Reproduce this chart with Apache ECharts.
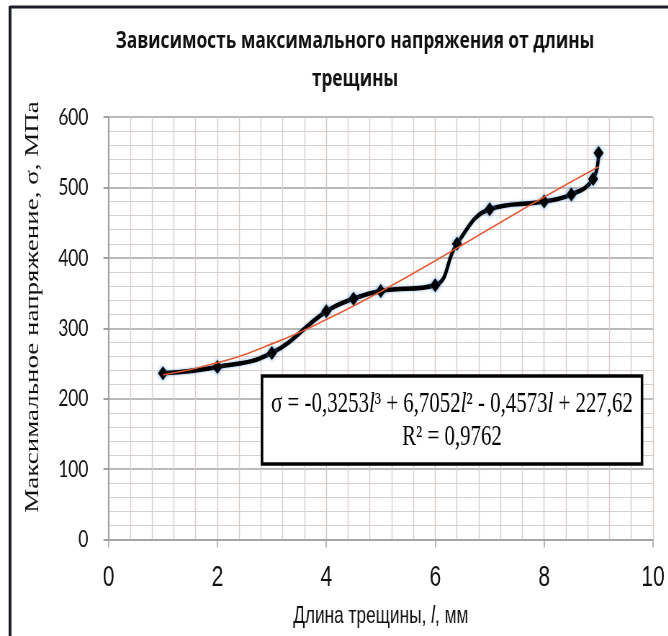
<!DOCTYPE html>
<html><head><meta charset="utf-8">
<script src="https://cdn.jsdelivr.net/npm/echarts@6/dist/echarts.min.js"></script>
<style>
html,body{margin:0;padding:0;background:#fff;overflow:hidden;}
#wrap{width:668px;height:636px;overflow:hidden;position:relative;background:#fff;}
#chart{width:928px;height:636px;transform:scaleX(0.72);transform-origin:0 0;}
</style></head><body>
<div id="wrap"><div id="chart"></div></div>
<script>
// ---- data ----
const titleText = 'Зависимость максимального напряжения от длины\nтрещины';
const xAxisName = 'Длина трещины, {i|l}, мм';
const yAxisName = 'Максимальное напряжение, σ, МПа';
const xMin = 0, xMax = 10, xStep = 2;
const yMin = 0, yMax = 600, yStep = 100;
const crackLength = [1, 2, 3, 4, 4.5, 5, 6, 6.4, 7, 8, 8.5, 8.9, 9];
const maxStress   = [236, 245, 265, 324, 342, 353, 361, 420, 469, 480, 490, 512, 549];
const trendLength = [1, 2, 3, 4, 5, 6, 7, 8, 9];
const trendStress = [233.5, 250.9, 277.8, 312.3, 352.3, 396.0, 441.4, 486.5, 529.5];
const equationLine1 = 'σ = -0,3253{i|l}³ + 6,7052{i|l}² - 0,4573{i|l} + 227,62';
const equationLine2 = 'R² = 0,9762';

const S = 0.72; // horizontal compression of the picture
const px = v => v / S;

const chart = echarts.init(document.getElementById('chart'), null, {renderer: 'canvas'});
const mainData = crackLength.map((x, i) => [x, maxStress[i]]);
const trendData = trendLength.map((x, i) => [x, trendStress[i]]);

const boxX = px(262), boxY = 376, boxW = px(642) - px(262), boxH = 88;

chart.setOption({
  animation: false,
  backgroundColor: '#fff',
  title: {
    text: titleText,
    left: px(355),
    top: 22,
    textAlign: 'center',
    padding: 0,
    textStyle: {fontFamily: 'Open Sans', fontWeight: 'bold', fontSize: 24, lineHeight: 38, color: '#111'}
  },
  grid: {left: px(108.5), right: 928 - px(653), top: 117, bottom: 636 - 539.5},
  xAxis: {
    type: 'value', min: xMin, max: xMax, interval: xStep,
    name: xAxisName, nameLocation: 'middle', nameGap: 65,
    nameTextStyle: {fontFamily: 'Liberation Sans', fontSize: 24, color: '#111',
      rich: {i: {fontFamily: 'Liberation Sans', fontSize: 24, fontStyle: 'italic', color: '#111'}}},
    axisLine: {show: true, lineStyle: {color: '#a0a0a0', width: 1.5}},
    axisTick: {show: true, length: 8, lineStyle: {color: '#a0a0a0', width: 1.5}},
    axisLabel: {fontFamily: 'Liberation Sans', fontSize: 29, color: '#111', margin: 24},
    splitLine: {show: true, lineStyle: {color: '#d3c9c5', width: 1.4}},
    minorTick: {show: false, splitNumber: 5},
    minorSplitLine: {show: true, lineStyle: {color: '#d6cdca', width: 1.4}}
  },
  yAxis: {
    type: 'value', min: yMin, max: yMax, interval: yStep,
    axisLine: {show: true, lineStyle: {color: '#a0a0a0', width: 2}},
    axisTick: {show: true, length: 7, lineStyle: {color: '#a0a0a0', width: 2}},
    axisLabel: {fontFamily: 'Lato', fontSize: 24, color: '#111', margin: 28},
    splitLine: {show: true, lineStyle: {color: '#a3a3a3', width: 1.6}},
    minorTick: {show: false, splitNumber: 5},
    minorSplitLine: {show: true, lineStyle: {color: '#d8d0cd', width: 1}}
  },
  series: [
    {
      type: 'line', data: mainData, smooth: 0.45, z: 3,
      lineStyle: {color: '#000', width: 4.5, shadowColor: 'rgba(60,130,220,0.6)', shadowBlur: 3},
      symbol: 'diamond', symbolSize: [14, 14],
      itemStyle: {color: '#000', shadowColor: 'rgba(60,140,230,0.9)', shadowBlur: 4}
    },
    {
      type: 'line', data: trendData, smooth: true, z: 4, symbol: 'none',
      lineStyle: {color: '#e4572e', width: 1.6}
    }
  ],
  graphic: [
    {type: 'line', z: 100, shape: {x1: px(10), y1: 7, x2: 928, y2: 7}, style: {stroke: '#1c1f2a', lineWidth: 3}},
    {type: 'line', z: 100, shape: {x1: px(10), y1: 6, x2: px(10), y2: 636}, style: {stroke: '#1c1f2a', lineWidth: 4}},
    {type: 'text', z: 100, x: px(33), y: 307, rotation: Math.PI / 2,
      style: {text: yAxisName, fontFamily: 'Liberation Serif', fontSize: 27, fill: '#111', align: 'center', verticalAlign: 'middle'}},
    {type: 'rect', z: 100, shape: {x: boxX, y: boxY, width: boxW, height: boxH},
      style: {fill: '#fff', stroke: '#000', lineWidth: 3.5}},
    {type: 'text', z: 101, x: boxX + boxW / 2, y: 404,
      style: {text: equationLine1, fontFamily: 'Liberation Serif', fontSize: 29, fill: '#000', align: 'center', verticalAlign: 'middle',
        rich: {i: {fontFamily: 'Liberation Serif', fontSize: 29, fontStyle: 'italic', fill: '#000'}}}},
    {type: 'text', z: 101, x: boxX + boxW / 2, y: 437,
      style: {text: equationLine2, fontFamily: 'Liberation Serif', fontSize: 29, fill: '#000', align: 'center', verticalAlign: 'middle'}}
  ]
});
</script>
</body></html>
